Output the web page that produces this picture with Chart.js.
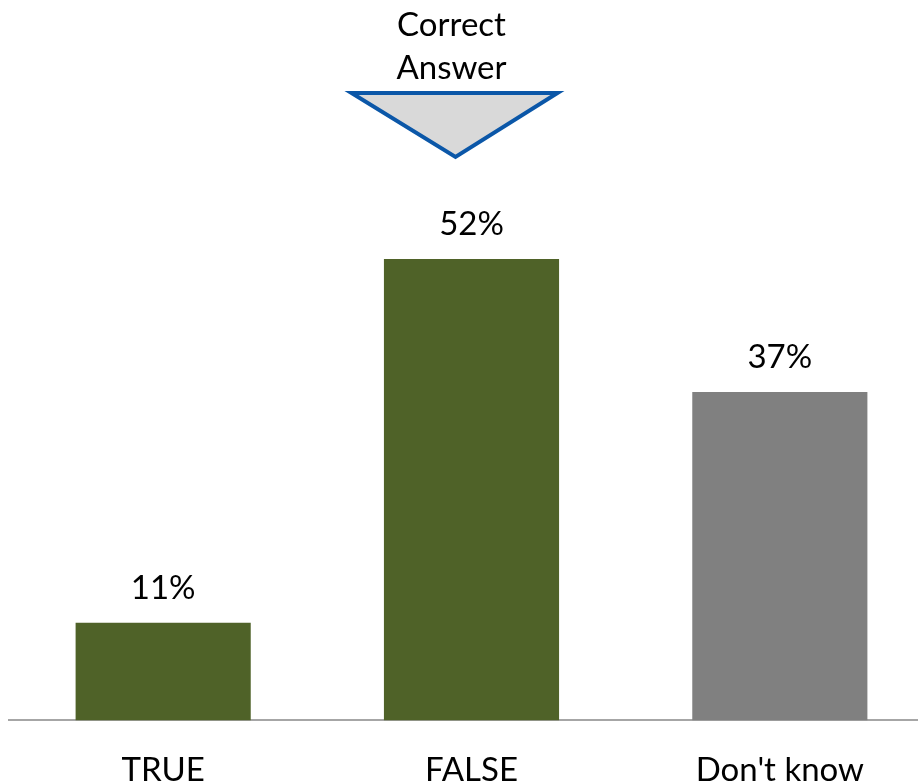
<!DOCTYPE html>
<html>
<head>
<meta charset="utf-8">
<script src="https://cdn.jsdelivr.net/npm/chart.js@4/dist/chart.umd.min.js"></script>
<style>
  html, body { margin: 0; padding: 0; background: #fff; overflow: hidden; }
  #wrap { width: 918px; height: 783px; overflow: hidden; }
</style>
</head>
<body>
<div id="wrap"><canvas id="chart" width="934" height="820"></canvas></div>
<script>
// answers and share of respondents (%)
const categories = ['TRUE', 'FALSE', "Don't know"];
const shares = [11, 52, 37];
const barColors = ['#4f6228', '#4f6228', '#808080'];
const correctIndex = 1;
const calloutLines = ['Correct', 'Answer'];

const FONT = 'Lato, "Open Sans", sans-serif';
const FONT_SIZE = 33;

// value labels above each bar
const valueLabels = {
  id: 'valueLabels',
  afterDatasetsDraw(chart) {
    const ctx = chart.ctx;
    const meta = chart.getDatasetMeta(0);
    ctx.save();
    ctx.font = FONT_SIZE + 'px ' + FONT;
    ctx.fillStyle = '#000';
    ctx.textAlign = 'center';
    ctx.textBaseline = 'alphabetic';
    meta.data.forEach((bar, i) => {
      ctx.fillText(shares[i] + '%', bar.x, bar.y - 24);
    });
    ctx.restore();
  }
};

// "Correct Answer" pointer over the right answer
const correctCallout = {
  id: 'correctCallout',
  afterDraw(chart) {
    const ctx = chart.ctx;
    const bar = chart.getDatasetMeta(0).data[correctIndex];
    const cx = bar.x - 17;
    ctx.save();
    ctx.beginPath();
    ctx.moveTo(cx - 103, 93);
    ctx.lineTo(cx + 103, 93);
    ctx.lineTo(cx + 1, 157);
    ctx.closePath();
    ctx.fillStyle = '#d9d9d9';
    ctx.fill();
    ctx.lineWidth = 4;
    ctx.lineJoin = 'miter';
    ctx.strokeStyle = '#0b57a8';
    ctx.stroke();

    ctx.font = FONT_SIZE + 'px ' + FONT;
    ctx.fillStyle = '#000';
    ctx.textAlign = 'center';
    ctx.textBaseline = 'alphabetic';
    ctx.fillText(calloutLines[0], cx - 3, 36);
    ctx.fillText(calloutLines[1], cx - 3, 79);
    ctx.restore();
  }
};

new Chart(document.getElementById('chart'), {
  type: 'bar',
  data: {
    labels: categories,
    datasets: [{
      data: shares,
      backgroundColor: barColors,
      borderWidth: 0,
      barPercentage: 0.568,
      categoryPercentage: 1
    }]
  },
  options: {
    responsive: false,
    animation: false,
    layout: { padding: { top: 188, left: 9, right: 0, bottom: 0 } },
    plugins: { legend: { display: false }, tooltip: { enabled: false } },
    scales: {
      x: {
        grid: { display: false, drawTicks: false },
        border: { display: true, color: '#a6a6a6', width: 2 },
        ticks: { color: '#000', font: { family: FONT, size: FONT_SIZE }, padding: 30, maxRotation: 0 }
      },
      y: {
        display: false,
        min: 0,
        max: 60
      }
    }
  },
  plugins: [valueLabels, correctCallout]
});
</script>
</body>
</html>
